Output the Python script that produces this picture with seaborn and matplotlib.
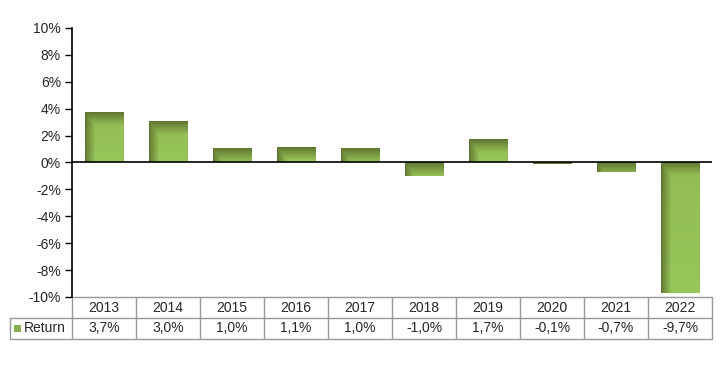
import numpy as np
import pandas as pd
import matplotlib
matplotlib.use('Agg')
import matplotlib.pyplot as plt
import seaborn as sns
from matplotlib.patches import Rectangle
from matplotlib.lines import Line2D

# data
years = ['2013', '2014', '2015', '2016', '2017', '2018', '2019', '2020', '2021', '2022']
returns = [3.7, 3.0, 1.0, 1.1, 1.0, -1.0, 1.7, -0.1, -0.7, -9.7]
series_name = 'Return'
yticks = [-10, -8, -6, -4, -2, 0, 2, 4, 6, 8, 10]

df = pd.DataFrame({'year': years, 'ret': returns})

sns.set_style('white')
plt.rcParams['font.family'] = ['Liberation Sans', 'DejaVu Sans']

dark = np.array([98, 118, 50]) / 255
light = np.array([152, 198, 88]) / 255
FS = 10


def bevel(w_px, h_px, band=13):
    # dark top and left edges, mitred at the corner
    yy, xx = np.mgrid[0:h_px, 0:w_px]
    t_top = np.clip(yy / band, 0, 1)
    t_left = np.clip(xx / (band * 0.75), 0, 1)
    f = np.minimum(t_top, t_left) ** 0.9
    f = f * (0.88 + 0.12 * yy / max(h_px - 1, 1))
    img = dark[None, None, :] + (light - dark)[None, None, :] * f[..., None]
    return np.clip(img, 0, 1)


fig = plt.figure(figsize=(7.27, 3.67), dpi=100)
ax = fig.add_axes([72 / 727, 1 - 297 / 367, 640 / 727, 269 / 367])

sns.barplot(data=df, x='year', y='ret', color='#96c658', width=0.6, ax=ax,
            saturation=1, edgecolor='none')
ax.set_ylim(-10, 10)
ax.set_xlim(-0.5, len(years) - 0.5)

# gradient fill on each bar
for p in ax.patches:
    x0, y0 = p.get_x(), p.get_y()
    w, h = p.get_width(), p.get_height()
    ylo, yhi = min(y0, y0 + h), max(y0, y0 + h)
    (px0, py0), (px1, py1) = ax.transData.transform([(x0, ylo), (x0 + w, yhi)])
    wp, hp = max(int(round(px1 - px0)), 1), max(int(round(py1 - py0)), 1)
    ax.imshow(bevel(wp, hp), extent=(x0, x0 + w, ylo, yhi), aspect='auto',
              origin='upper', zorder=3, interpolation='bilinear')
    p.set_visible(False)
ax.set_xlim(-0.5, len(years) - 0.5)
ax.set_ylim(-10, 10)

ax.axhline(0, color='black', lw=1.2, zorder=4)

ax.set_yticks(yticks)
ax.set_yticklabels([f'{t}%' for t in yticks], fontsize=FS)
ax.tick_params(axis='y', length=5, width=1, direction='out', color='black', pad=3, left=True)
ax.set_xticks([])
ax.set_xlabel('')
ax.set_ylabel('')
for s in ['top', 'right', 'bottom']:
    ax.spines[s].set_visible(False)
ax.spines['left'].set_color('black')
ax.spines['left'].set_linewidth(1.2)

# data table under the axis
rh = 21 / 269
grey = '#999999'
n = len(years)
tr = ax.transAxes
lab_left = -62 / 640
kw = dict(transform=tr, color=grey, lw=1, clip_on=False)
# horizontal lines
ax.add_line(Line2D([0, 1], [0, 0], **kw))
ax.add_line(Line2D([lab_left, 1], [-rh, -rh], **kw))
ax.add_line(Line2D([lab_left, 1], [-2 * rh, -2 * rh], **kw))
# vertical lines
ax.add_line(Line2D([lab_left, lab_left], [-rh, -2 * rh], **kw))
for i in range(n + 1):
    ax.add_line(Line2D([i / n, i / n], [0, -2 * rh], **kw))

for i, (yr, r) in enumerate(zip(years, returns)):
    xc = (i + 0.5) / n
    ax.text(xc, -0.5 * rh, yr, transform=tr, ha='center', va='center', fontsize=FS)
    ax.text(xc, -1.5 * rh, f'{r:.1f}%'.replace('.', ','), transform=tr,
            ha='center', va='center', fontsize=FS)

# legend key in the row label cell
kx = lab_left + 4 / 640
ax.add_patch(Rectangle((kx, -1.5 * rh - 3.5 / 269), 7 / 640, 7 / 269, transform=tr,
                       facecolor='#88b050', edgecolor='none', clip_on=False))
ax.text(kx + 10 / 640, -1.5 * rh, series_name, transform=tr, ha='left', va='center',
        fontsize=FS)

fig.savefig('out.png', dpi=100)
